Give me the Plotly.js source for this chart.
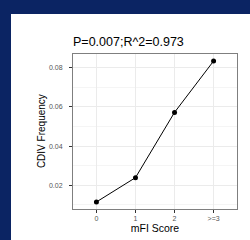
<!DOCTYPE html>
<html>
<head>
<meta charset="utf-8">
<script src="https://cdn.plot.ly/plotly-3.0.1.min.js"></script>
<style>
html, body { margin: 0; padding: 0; background: #ffffff; overflow: hidden; }
#navyLeft { position: absolute; left: 0; top: 0; width: 11px; height: 2000px; background: #0b2463; }
#navyTop { position: absolute; left: 0; top: 0; width: 2000px; height: 14px; background: #0b2463; }
#chart { position: absolute; left: 11px; top: 14px; width: 239px; height: 226px; }
</style>
</head>
<body>
<div id="navyLeft"></div><div id="navyTop"></div>
<div id="chart"></div>
<script>
const categories = ['0', '1', '2', '>=3'];
const cdivFrequency = [0.0115, 0.0239, 0.0572, 0.0834];
const chartTitle = 'P=0.007;R^2=0.973';
const xTitle = 'mFI Score';
const yTitle = 'CDIV Frequency';

const font = 'Liberation Sans, Arial, Helvetica, sans-serif';
const plotW = 239 - 62 - 13;

Plotly.newPlot('chart', [{
  x: categories,
  y: cdivFrequency,
  type: 'scatter',
  mode: 'lines+markers',
  line: { color: '#000000', width: 1 },
  marker: { color: '#000000', size: 5 },
  hoverinfo: 'none'
}], {
  width: 239, height: 226,
  margin: { l: 62, r: 13, t: 40, b: 31 },
  paper_bgcolor: '#ffffff',
  plot_bgcolor: '#ffffff',
  showlegend: false,
  title: {
    text: chartTitle,
    font: { family: font, size: 12.5, color: '#000000' },
    xref: 'paper', x: 0, xanchor: 'left',
    yref: 'container', y: 1 - 28 / 226, yanchor: 'middle'
  },
  annotations: [{
    text: yTitle,
    xref: 'paper', yref: 'paper',
    x: (41.3 - 72.7) / plotW, y: 0.5,
    xanchor: 'center', yanchor: 'middle',
    textangle: -90, showarrow: false,
    font: { family: font, size: 10, color: '#000000' }
  }],
  xaxis: {
    type: 'category',
    categoryorder: 'array', categoryarray: categories,
    range: [-0.6, 3.6],
    showgrid: true, gridcolor: '#ebebeb', gridwidth: 1,
    zeroline: false,
    showline: true, mirror: true, linecolor: '#7f7f7f', linewidth: 1,
    ticks: 'outside', ticklen: 3, tickcolor: '#333333', tickwidth: 1,
    tickfont: { family: font, size: 7, color: '#555555' },
    title: { text: xTitle, font: { family: font, size: 10.5, color: '#000000' }, standoff: 2 },
    automargin: false,
    fixedrange: true
  },
  yaxis: {
    range: [0.0079, 0.0870],
    tick0: 0, dtick: 0.02,
    tickformat: '.2f',
    ticklabelstandoff: 5,
    showgrid: true, gridcolor: '#ebebeb', gridwidth: 1,
    minor: { dtick: 0.01, tick0: 0, showgrid: true, gridcolor: '#f5f5f5', gridwidth: 1, ticks: '' },
    zeroline: false,
    showline: true, mirror: true, linecolor: '#7f7f7f', linewidth: 1,
    ticks: 'outside', ticklen: 3, tickcolor: '#333333', tickwidth: 1,
    tickfont: { family: font, size: 7, color: '#555555' },
    automargin: false,
    fixedrange: true
  }
}, { displayModeBar: false, staticPlot: true });
</script>
</body>
</html>
